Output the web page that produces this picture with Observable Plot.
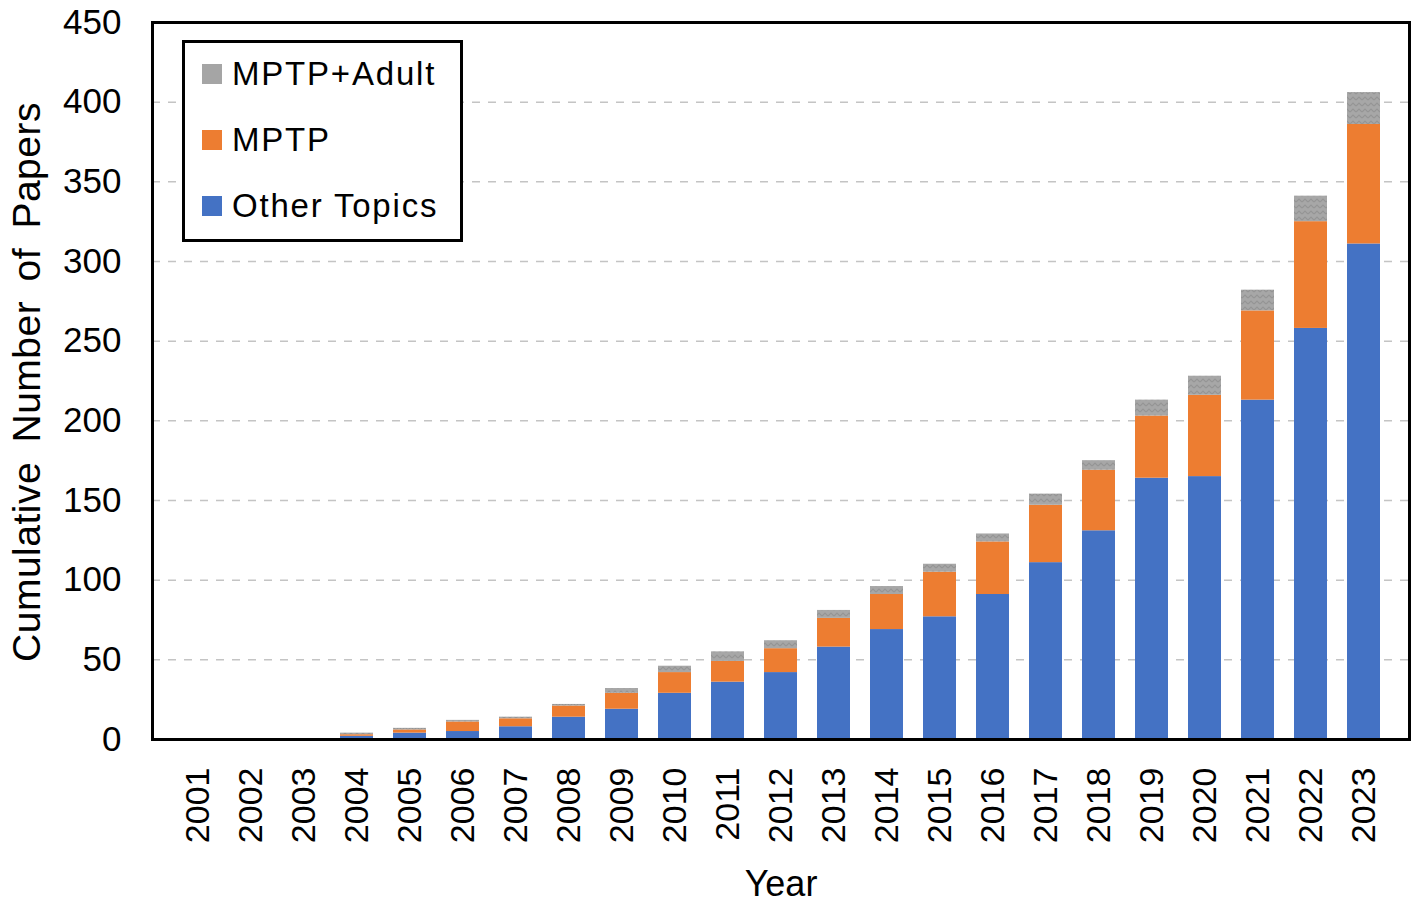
<!DOCTYPE html>
<html>
<head>
<meta charset="utf-8">
<script src="https://cdn.jsdelivr.net/npm/d3@7"></script>
<script src="https://cdn.jsdelivr.net/npm/@observablehq/plot@0.6"></script>
<style>
  html, body { margin: 0; padding: 0; background: #fff; }
  #wrap { position: relative; width: 1417px; height: 907px; font-family: "Liberation Sans", Arial, sans-serif; }
  #legend { position: absolute; left: 182px; top: 40px; width: 281px; height: 202px; border: 3px solid #000; background: #fff; box-sizing: border-box; }
  .item { position: absolute; left: 17px; display: flex; align-items: center; font-size: 33px; letter-spacing: 1.8px; color: #000; line-height: 1; }
  .sw { width: 20px; height: 20px; margin-right: 10px; }
</style>
</head>
<body>
<div id="wrap"></div>
<script>
const years = ["2001","2002","2003","2004","2005","2006","2007","2008","2009","2010","2011","2012","2013","2014","2015","2016","2017","2018","2019","2020","2021","2022","2023"];
const otherTopics = [0,0,0,2,4,5,8,14,19,29,36,42,58,69,77,91,111,131,164,165,213,258,311];
const mptp        = [0,0,0,1,2,6,5,7,10,13,13,15,18,22,28,33,36,38,39,51,56,67,75];
const mptpAdult   = [0,0,0,1,1,1,1,1,3,4,6,5,5,5,5,5,7,6,10,12,13,16,20];
const seriesNames = ["Other Topics","MPTP","MPTP+Adult"];
const seriesColors = ["#4472C4","#ED7D31","#A5A5A5"];
const legendOrder = ["MPTP+Adult","MPTP","Other Topics"];
const yTicks = [0,50,100,150,200,250,300,350,400,450];
const gridTicks = [50,100,150,200,250,300,350,400];
const yTitle = "Cumulative Number of Papers";
const xTitle = "Year";

const seriesValues = [otherTopics, mptp, mptpAdult];
const rows = [];
years.forEach((y, i) => {
  seriesNames.forEach((s, j) => rows.push({year: y, series: s, value: seriesValues[j][i]}));
});

const chart = Plot.plot({
  width: 1417,
  height: 907,
  marginLeft: 152,
  marginRight: 8,
  marginTop: 22,
  marginBottom: 168,
  style: {fontFamily: "Liberation Sans, Arial, sans-serif", background: "#fff", color: "#000"},
  x: {domain: years, padding: 0.37, label: null},
  y: {domain: [0, 450], label: null},
  color: {domain: seriesNames, range: seriesColors},
  marks: [
    Plot.gridY(gridTicks, {stroke: "#c4c4c4", strokeOpacity: 1, strokeDasharray: "8,8", strokeWidth: 1.5}),
    Plot.barY(rows, {x: "year", y: "value", fill: "series", order: seriesNames}),
    Plot.axisY({ticks: yTicks, tickSize: 0, tickPadding: 31, fontSize: 35, label: null}),
    Plot.axisX({tickSize: 0, tickRotate: -90, tickPadding: 28, fontSize: 34, label: null}),
    Plot.text([yTitle], {frameAnchor: "left", textAnchor: "middle", dx: -125, dy: 1, rotate: -90, fontSize: 39, text: d => d, className: "ytitle"}),
    Plot.text([xTitle], {frameAnchor: "bottom", textAnchor: "middle", dy: 156, fontSize: 36, text: d => d}),
    Plot.frame({stroke: "#000", strokeWidth: 3})
  ]
});

// gray texture pattern
const ns = "http://www.w3.org/2000/svg";
const defs = document.createElementNS(ns, "defs");
defs.innerHTML = `<pattern id="grayTex" width="6" height="6" patternUnits="userSpaceOnUse">
  <rect width="6" height="6" fill="#a7a7a7"></rect>
  <path d="M0,4 L3,1 L6,4" fill="none" stroke="#959595" stroke-width="1.2"></path>
</pattern>`;
chart.insertBefore(defs, chart.firstChild);
d3.select(chart).selectAll("rect").filter(function(){ return (this.getAttribute("fill")||"").toLowerCase() === "#a5a5a5"; })
  .attr("fill", "url(#grayTex)");
d3.select(chart).selectAll(".ytitle text").style("word-spacing", "8px").style("letter-spacing", "0.5px");

const wrap = document.getElementById("wrap");
wrap.appendChild(chart);

const legend = document.createElement("div");
legend.id = "legend";
legendOrder.forEach((name, k) => {
  const it = document.createElement("div");
  it.className = "item";
  it.style.top = (14 + k * 66) + "px";
  const sw = document.createElement("div");
  sw.className = "sw";
  sw.style.background = seriesColors[seriesNames.indexOf(name)];
  const t = document.createElement("span");
  t.textContent = name;
  it.appendChild(sw); it.appendChild(t);
  legend.appendChild(it);
});
wrap.appendChild(legend);
</script>
</body>
</html>
